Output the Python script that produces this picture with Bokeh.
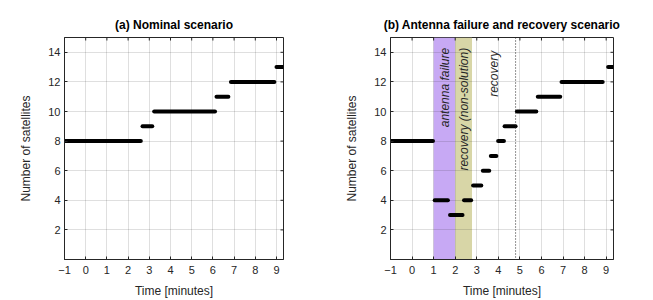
from bokeh.plotting import figure
from bokeh.layouts import row
from bokeh.models import Range1d, FixedTicker, Label, Span, ColumnDataSource
from bokeh.embed import file_html
from bokeh.resources import INLINE

# ---------------- data ----------------
nom_start = [-1.0, 2.68, 3.23, 6.17, 6.85, 9.0]
nom_end = [2.60, 3.14, 6.10, 6.73, 8.90, 9.5]
nom_sats = [8, 9, 10, 11, 12, 13]

fail_start = [-1.0, 1.05, 1.76, 2.41, 2.83, 3.28, 3.65, 3.99, 4.29, 4.86, 5.83, 6.93, 9.09]
fail_end = [0.97, 1.66, 2.34, 2.74, 3.21, 3.58, 3.91, 4.26, 4.80, 5.76, 6.87, 8.84, 9.5]
fail_sats = [8, 4, 3, 4, 5, 6, 7, 8, 9, 10, 11, 12, 13]

phase_start = [1.0, 2.0]
phase_end = [2.0, 2.78]
phase_colors = ["#C7A9F4", "#D8D6A7"]
phase_labels = ["antenna failure", "recovery (non-solution)", "recovery"]
phase_label_x = [1.52, 2.43, 3.8]
phase_label_top = [14.3, 14.3, 14.1]
recovery_line_x = 4.8

x_ticks = [-1, 0, 1, 2, 3, 4, 5, 6, 7, 8, 9]
y_ticks = [2, 4, 6, 8, 10, 12, 14]
y_max = 15

FONT = "Liberation Sans"
AX = "#262626"


def make_fig(title, width, border_left, border_right, x_end):
    p = figure(width=width, height=300, output_backend="svg", toolbar_location=None,
               x_range=Range1d(-1, x_end), y_range=Range1d(0, y_max),
               min_border_left=border_left, min_border_right=border_right,
               min_border_top=37, min_border_bottom=41,
               title=title)
    p.title.text_font = FONT
    p.title.text_font_size = "12px"
    p.title.text_font_style = "bold"
    p.title.text_color = "#000000"
    p.title.align = "center"
    p.title.standoff = 11
    p.outline_line_color = AX
    p.outline_line_width = 1
    p.background_fill_color = "white"
    p.border_fill_color = "white"

    p.xaxis.ticker = FixedTicker(ticks=x_ticks)
    p.yaxis.ticker = FixedTicker(ticks=y_ticks)
    for ax in (p.xaxis[0], p.yaxis[0]):
        ax.major_tick_in = 3
        ax.major_tick_out = 0
        ax.minor_tick_in = 0
        ax.minor_tick_out = 0
        ax.axis_line_color = AX
        ax.axis_line_width = 1
        ax.major_tick_line_color = AX
        ax.major_label_text_font = FONT
        ax.major_label_text_font_size = "11px"
        ax.major_label_text_color = AX
        ax.axis_label_text_font = FONT
        ax.axis_label_text_font_size = "12px"
        ax.axis_label_text_font_style = "normal"
        ax.axis_label_text_color = AX
    p.xaxis.major_label_standoff = 6
    p.yaxis.major_label_standoff = 4
    p.xaxis.axis_label = "Time [minutes]"
    p.yaxis.axis_label = "Number of satellites"
    p.xaxis.axis_label_standoff = 7
    p.yaxis.axis_label_standoff = 12

    # inward box ticks on top and right edges (clipped to frame)
    p.scatter(x=x_ticks, y=[y_max] * len(x_ticks), marker="dash", size=6, angle=90,
              angle_units="deg", line_color=AX, line_width=1)
    p.scatter(x=[x_end] * len(y_ticks), y=y_ticks, marker="dash", size=6,
              line_color=AX, line_width=1)

    p.xgrid.ticker = FixedTicker(ticks=x_ticks)
    p.ygrid.ticker = FixedTicker(ticks=y_ticks)
    p.grid.grid_line_color = AX
    p.grid.grid_line_alpha = 0.15
    p.grid.grid_line_width = 1
    return p


p1 = make_fig("(a) Nominal scenario", 324, 64, 41, 9.33)
p1.segment(x0="s", y0="y", x1="e", y1="y",
           source=ColumnDataSource(dict(s=nom_start, e=nom_end, y=nom_sats)),
           line_color="black", line_width=4, line_cap="round")

p2 = make_fig("(b) Antenna failure and recovery scenario", 329, 66, 40, 9.34)
p2.quad(left=phase_start, right=phase_end, bottom=0, top=y_max, fill_color=phase_colors,
        line_color=None, level="image")
p2.add_layout(Span(location=recovery_line_x, dimension="height", line_color=AX,
                   line_width=1, line_dash="1 2"))
for txt, xv, yv in zip(phase_labels, phase_label_x, phase_label_top):
    p2.add_layout(Label(x=xv, y=yv, text=txt, angle=90, angle_units="deg",
                        text_align="right", text_baseline="middle",
                        text_font=FONT, text_font_size="12px", text_font_style="italic",
                        text_color=AX))
p2.segment(x0="s", y0="y", x1="e", y1="y",
           source=ColumnDataSource(dict(s=fail_start, e=fail_end, y=fail_sats)),
           line_color="black", line_width=4, line_cap="round")

layout = row(p1, p2)
open("out.html", "w").write(file_html(layout, INLINE))
